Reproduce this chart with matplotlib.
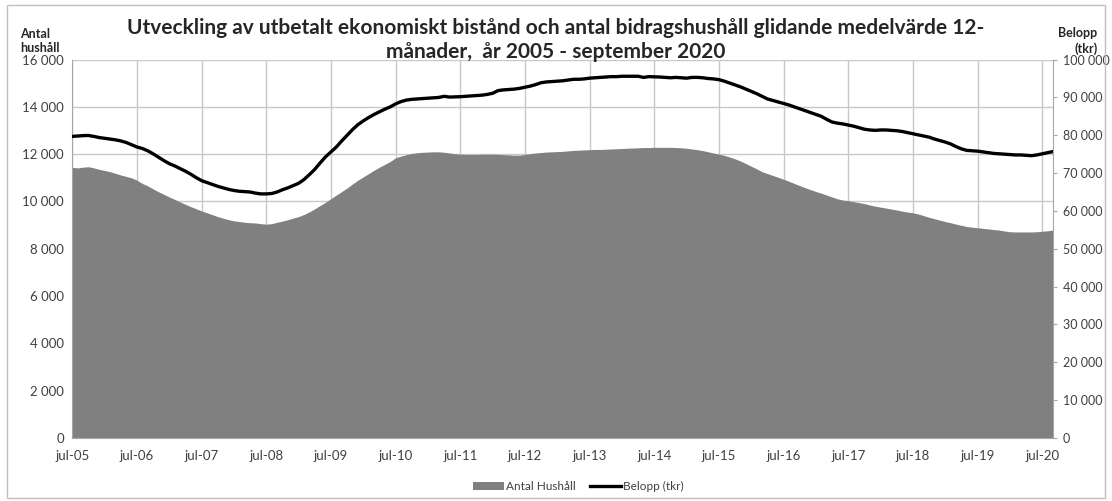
import matplotlib
matplotlib.use("Agg")
import matplotlib.pyplot as plt
from matplotlib.patches import Rectangle
from matplotlib.ticker import FuncFormatter
import numpy as np

plt.rcParams['font.family'] = ['Lato', 'DejaVu Sans']

# 12-manaders glidande medelvarde, jul-05 .. sep-20 (en rad per ar, jul-jun)
antal_hushall = [
    11440, 11420, 11450, 11470, 11420, 11360, 11310, 11260, 11190, 11120, 11060, 11000,
    10900, 10760, 10660, 10530, 10410, 10300, 10190, 10090, 9980, 9880, 9780, 9690,
    9600, 9520, 9440, 9360, 9290, 9230, 9180, 9150, 9120, 9100, 9090, 9060,
    9040, 9060, 9120, 9170, 9230, 9300, 9360, 9450, 9560, 9690, 9830, 9970,
    10120, 10270, 10420, 10570, 10740, 10900, 11040, 11180, 11320, 11450, 11570, 11690,
    11850, 11920, 11980, 12030, 12060, 12080, 12090, 12100, 12100, 12080, 12050, 12020,
    12000, 11990, 11990, 11990, 12000, 12000, 12000, 11990, 11980, 11970, 11960, 11960,
    11990, 12020, 12050, 12070, 12090, 12100, 12110, 12120, 12140, 12160, 12170, 12180,
    12190, 12200, 12200, 12210, 12220, 12230, 12240, 12250, 12260, 12270, 12280, 12280,
    12290, 12290, 12290, 12290, 12280, 12270, 12250, 12220, 12190, 12150, 12100, 12050,
    12000, 11950, 11880, 11800, 11710, 11600, 11490, 11380, 11260, 11180, 11100, 11020,
    10940, 10850, 10760, 10670, 10580, 10500, 10420, 10350, 10270, 10190, 10110, 10060,
    10030, 9990, 9950, 9910, 9850, 9800, 9760, 9720, 9680, 9640, 9590, 9550,
    9520, 9470, 9400, 9330, 9270, 9210, 9150, 9100, 9040, 8990, 8940, 8910,
    8890, 8860, 8840, 8810, 8790, 8750, 8720, 8710, 8710, 8710, 8710, 8720,
    8740, 8760, 8790,
]

belopp_tkr = [
    79700, 79800, 79900, 79950, 79700, 79400, 79200, 79000, 78800, 78500, 78100, 77500,
    76900, 76500, 75900, 75100, 74200, 73300, 72500, 71900, 71200, 70500, 69700, 68800,
    68000, 67500, 67000, 66500, 66100, 65700, 65400, 65200, 65100, 65000, 64700, 64500,
    64500, 64600, 65000, 65600, 66100, 66700, 67300, 68300, 69600, 71000, 72700, 74300,
    75600, 76900, 78500, 80000, 81500, 82800, 83800, 84700, 85500, 86200, 86900, 87500,
    88300, 88900, 89300, 89500, 89600, 89700, 89800, 89900, 90000, 90300, 90100, 90150,
    90200, 90300, 90400, 90500, 90600, 90800, 91100, 91800, 92000, 92100, 92200, 92400,
    92700, 93000, 93400, 93900, 94100, 94200, 94300, 94400, 94600, 94800, 94800, 94900,
    95100, 95200, 95300, 95400, 95500, 95500, 95600, 95600, 95600, 95600, 95300, 95500,
    95450, 95400, 95300, 95200, 95300, 95200, 95100, 95300, 95300, 95200, 95000, 94900,
    94700, 94300, 93800, 93300, 92800, 92200, 91600, 91000, 90300, 89600, 89200, 88800,
    88400, 88000, 87500, 87000, 86500, 86000, 85500, 85000, 84200, 83500, 83200, 83000,
    82700, 82400, 82000, 81600, 81400, 81300, 81400, 81400, 81300, 81200, 81000, 80700,
    80400, 80100, 79800, 79500, 79000, 78600, 78200, 77700, 77000, 76400, 76000, 75900,
    75800, 75600, 75400, 75200, 75100, 75000, 74900, 74800, 74800, 74700, 74600, 74800,
    75100, 75400, 75700,
]

tick_labels = ["jul-05", "jul-06", "jul-07", "jul-08", "jul-09", "jul-10", "jul-11", "jul-12",
               "jul-13", "jul-14", "jul-15", "jul-16", "jul-17", "jul-18", "jul-19", "jul-20"]

months = np.arange(len(antal_hushall))
tick_pos = months[::12]

txt = "#404040"
grid = "#c8c8c8"

fig = plt.figure(figsize=(11.12, 5.01), dpi=100)
fig.patches.append(Rectangle((0.006, 0.006), 0.988, 0.985, transform=fig.transFigure,
                             fill=False, edgecolor="#bfbfbf", linewidth=1))

ax = fig.add_axes([0.065, 0.126, 0.882, 0.755])
ax.fill_between(months, antal_hushall, 0, color="#808080", linewidth=0, label="Antal Hushåll")
ax.set_xlim(0, months[-1])
ax.set_ylim(0, 16000)
ax.set_yticks(np.arange(0, 16001, 2000))
ax.set_xticks(tick_pos)
ax.set_xticklabels(tick_labels)
ax.set_axisbelow(True)
ax.grid(True, color=grid, linewidth=1)

sp = FuncFormatter(lambda v, p: f"{int(v):,}".replace(",", " "))
ax.yaxis.set_major_formatter(sp)

ax2 = ax.twinx()
ax2.plot(months, belopp_tkr, color="black", linewidth=2.4, label="Belopp (tkr)")
ax2.set_ylim(0, 100000)
ax2.set_yticks(np.arange(0, 100001, 10000))
ax2.yaxis.set_major_formatter(sp)

for a in (ax, ax2):
    for s in a.spines.values():
        s.set_visible(False)
    a.tick_params(labelsize=9.5, colors=txt)
ax.spines["bottom"].set_visible(True)
ax.spines["bottom"].set_color("#a6a6a6")
ax.spines["left"].set_visible(True)
ax.spines["left"].set_color("#a6a6a6")
ax2.spines["right"].set_visible(True)
ax2.spines["right"].set_color("#a6a6a6")
ax.tick_params(axis="y", length=0, pad=6)
ax.tick_params(axis="x", length=0, pad=9)
ax2.tick_params(axis="y", length=3, color="#a6a6a6", pad=4, labelsize=9)

fig.text(0.5, 0.92, "Utveckling av utbetalt ekonomiskt bistånd och antal bidragshushåll glidande medelvärde 12-\n"
         "månader,  år 2005 - september 2020", ha="center", va="center", fontsize=15,
         fontweight="bold", color="#262626", linespacing=1.2)
fig.text(0.018, 0.918, "Antal\nhushåll", ha="left", va="center", fontsize=9,
         fontweight="bold", color="#262626", linespacing=1.25)
fig.text(0.987, 0.918, "Belopp\n(tkr)", ha="right", va="center", fontsize=9,
         fontweight="bold", color="#262626", multialignment="right", linespacing=1.25)

h1, l1 = ax.get_legend_handles_labels()
h2, l2 = ax2.get_legend_handles_labels()
fig.legend(h1 + h2, l1 + l2, loc="center", bbox_to_anchor=(0.52, 0.028), ncol=2,
           frameon=False, fontsize=8.5, handlelength=2.6, columnspacing=1.2,
           handletextpad=0.2, labelcolor=txt)

fig.savefig("out.png", dpi=100)
